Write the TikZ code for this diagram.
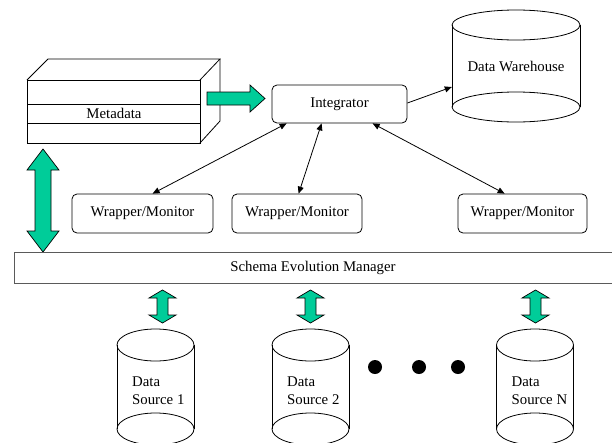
\documentclass[tikz,border=0pt]{standalone}
\usepackage{fontspec}
\setmainfont{Liberation Serif}
\usetikzlibrary{arrows.meta}
\definecolor{tgreen}{RGB}{0,204,153}
\definecolor{sgray}{RGB}{90,90,90}
\tikzset{
  every node/.style={font=\fontsize{14.8}{18}\selectfont},
  wmbox/.style={draw, rounded corners=5pt, line width=0.8pt, minimum height=39pt, inner sep=0pt},
  thinline/.style={line width=0.8pt},
  conn/.style={line width=0.8pt, {Triangle[length=7pt,width=6pt]}-{Triangle[length=7pt,width=6pt]}},
  conn1/.style={line width=0.8pt, -{Triangle[length=7pt,width=6pt]}},
  blockarrow/.style={fill=tgreen, draw=black, line width=0.7pt, line join=miter},
  cyl/.style={fill=white, draw=black, line width=0.8pt},
  bigdot/.style={fill=black, draw=none}
}
\begin{document}
\begin{tikzpicture}[x=1pt,y=-1pt]
\useasboundingbox (0,0) rectangle (612,442);

% Metadata block
\draw[thinline, line join=miter] (27,80) rectangle (200,143);
\draw[thinline] (27,104) -- (200,104);
\draw[thinline] (27,123) -- (200,123);
\draw[thinline, line join=miter] (27,80) -- (48,59) -- (220,59) -- (200,80);
\draw[thinline, line join=miter] (220,59) -- (220,121) -- (200,143);
\node (meta) at (114,113) {Metadata};

% Integrator
\node[wmbox, minimum width=135pt, minimum height=38pt] (int) at (339.5,104) {Integrator};

% Data Warehouse cylinder
\node[minimum width=128pt, minimum height=82pt, inner sep=0pt] (dw) at (516,66) {};
\fill[white] (452,25) rectangle (580,107);
\draw[thinline] (452,25) -- (452,107);
\draw[thinline] (580,25) -- (580,107);
\draw[thinline] (516,25) ellipse [x radius=64, y radius=15];
\draw[thinline] (516,107) ellipse [x radius=64, y radius=15];
\node (dwt) at (516,66) {Data Warehouse};

% Green arrow Metadata -> Integrator
\draw[blockarrow] (207,92) -- (250,92) -- (250,85) -- (265,98.5) -- (250,112) -- (250,105) -- (207,105) -- cycle;

% Wrapper/Monitors
\node[wmbox, minimum width=141pt] (wm1) at (142.5,213.5) {Wrapper/Monitor};
\node[wmbox, minimum width=130pt] (wm2) at (297,213.5) {Wrapper/Monitor};
\node[wmbox, minimum width=129pt] (wm3) at (522.5,213.5) {Wrapper/Monitor};

% Connectors
\draw[conn] ([xshift=15pt]int.south west) -- ([xshift=81pt]wm1.north west);
\draw[conn] ([xshift=50pt]int.south west) -- ([xshift=67pt]wm2.north west);
\draw[conn] ([xshift=101pt]int.south west) -- ([xshift=47pt]wm3.north west);
\draw[conn1] ([yshift=1pt]int.east) -- ([yshift=-21pt]dw.west);

% Big vertical double arrow
\draw[blockarrow] (43,149) -- (59,170) -- (51,170) -- (51,231) -- (59,231) -- (43,252) -- (27,231) -- (35,231) -- (35,170) -- (27,170) -- cycle;

% Schema Evolution Manager
\draw[line width=0.9pt, draw=sgray] (612,252) -| (14,283) -- (612,283);
\node (sem) at (313,268) {Schema Evolution Manager};

% Small double arrows
\foreach \cx in {162.5,310.5,535.5}{
  \draw[blockarrow, shift={(\cx,306.5)}] (0,-16.5) -- (13.5,-8.5) -- (5.5,-8.5) -- (5.5,8.5) -- (13.5,8.5) -- (0,16.5) -- (-13.5,8.5) -- (-5.5,8.5) -- (-5.5,-8.5) -- (-13.5,-8.5) -- cycle;
}

% Data source cylinders
\foreach \cx/\nm/\lab in {155.5/ds1/1, 310.5/ds2/2, 535/dsn/N}{
  \fill[white] (\cx-38.5,345) rectangle (\cx+38.5,429);
  \draw[thinline] (\cx-38.5,345) -- (\cx-38.5,429);
  \draw[thinline] (\cx+38.5,345) -- (\cx+38.5,429);
  \draw[thinline] (\cx,345) ellipse [x radius=38.5, y radius=16];
  \draw[thinline] (\cx,429) ellipse [x radius=38.5, y radius=16];
  \node[align=left, anchor=west, inner sep=0pt] (\nm) at (\cx-23.5,391) {Data\\Source \lab};
}

% Dots
\fill[bigdot] (375,367) circle (7);
\fill[bigdot] (419,367) circle (7);
\fill[bigdot] (458,367) circle (7);
\end{tikzpicture}
\end{document}
